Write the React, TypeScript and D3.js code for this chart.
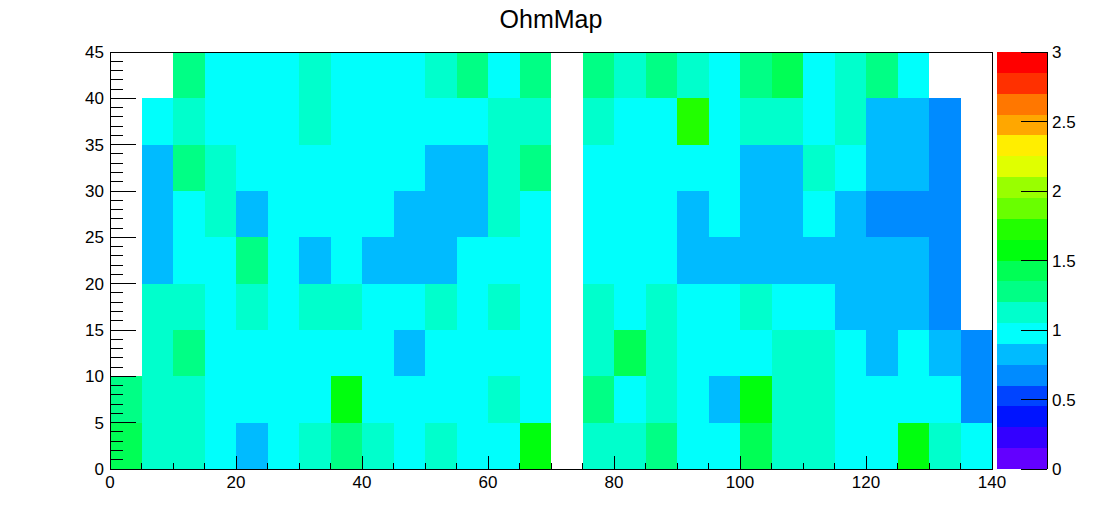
import React from "react";
import * as d3 from "d3";

const title = "OhmMap";
const xEdges = d3.range(0, 141, 5); // 28 bins of width 5
const yEdges = d3.range(0, 46, 5); // 9 bins of width 5
const xTickLabels = [0, 20, 40, 60, 80, 100, 120, 140];
const yTickLabels = [0, 5, 10, 15, 20, 25, 30, 35, 40, 45];
const zTickLabels = [0, 0.5, 1, 1.5, 2, 2.5, 3];
const zMin = 0;
const zMax = 3;
const nContours = 20;

// values per y bin (row0 = y 0..5), 28 x bins each; 0 = empty bin
const row0 = [1.41, 1.12, 1.15, 0.97, 0.83, 0.99, 1.10, 1.27, 1.13, 0.96, 1.11, 0.98, 1.02, 1.59, 0, 1.14, 1.09, 1.30, 0.95, 1.01, 1.44, 1.16, 1.12, 0.99, 0.97, 1.61, 1.13, 1.00];
const row1 = [1.32, 1.14, 1.10, 0.98, 1.01, 0.96, 0.99, 1.57, 1.03, 0.95, 1.00, 0.97, 1.12, 1.02, 0, 1.29, 0.98, 1.11, 1.00, 0.84, 1.60, 1.13, 1.15, 0.99, 1.02, 0.96, 1.01, 0.70];
const row2 = [0, 1.12, 1.27, 0.99, 1.02, 0.97, 1.00, 0.95, 1.01, 0.82, 0.98, 1.03, 0.96, 1.00, 0, 1.10, 1.42, 1.14, 0.97, 1.01, 0.99, 1.11, 1.09, 0.96, 0.85, 1.02, 0.79, 0.69];
const row3 = [0, 1.13, 1.11, 0.98, 1.09, 1.00, 1.15, 1.12, 0.97, 1.02, 1.14, 0.95, 1.10, 0.99, 0, 1.12, 0.96, 1.16, 1.01, 0.98, 1.09, 1.03, 0.97, 0.86, 0.83, 0.81, 0.71, 0];
const row4 = [0, 0.84, 0.99, 1.01, 1.26, 0.97, 0.80, 1.02, 0.86, 0.83, 0.85, 0.96, 1.00, 0.98, 0, 1.01, 0.95, 0.99, 0.87, 0.84, 0.82, 0.86, 0.85, 0.83, 0.80, 0.84, 0.67, 0];
const row5 = [0, 0.82, 0.98, 1.13, 0.85, 1.03, 0.97, 1.00, 0.96, 0.83, 0.87, 0.81, 1.11, 1.02, 0, 0.99, 1.01, 0.97, 0.84, 1.00, 0.86, 0.82, 0.98, 0.85, 0.70, 0.68, 0.66, 0];
const row6 = [0, 0.85, 1.30, 1.11, 1.00, 0.97, 1.02, 0.99, 0.96, 1.01, 0.88, 0.84, 1.13, 1.31, 0, 0.98, 1.03, 0.96, 1.00, 0.97, 0.83, 0.86, 1.12, 0.99, 0.81, 0.84, 0.69, 0];
const row7 = [0, 1.01, 1.14, 0.97, 1.00, 0.98, 1.16, 1.02, 0.96, 0.99, 1.03, 0.95, 1.12, 1.10, 0, 1.13, 0.97, 1.01, 1.72, 0.98, 1.11, 1.15, 1.00, 1.14, 0.82, 0.85, 0.72, 0];
const row8 = [0, 0, 1.28, 0.99, 1.02, 0.97, 1.13, 1.00, 0.95, 1.03, 1.09, 1.31, 0.98, 1.26, 0, 1.29, 1.15, 1.32, 1.12, 0.96, 1.25, 1.44, 1.01, 1.10, 1.27, 0.99, 0, 0];
const rows = [row0, row1, row2, row3, row4, row5, row6, row7, row8];

// ROOT "pretty" palette (HLS hue 280 -> 0), 50 colours
const paletteColor = (k: number) => {
  const i = Math.floor(((k + 0.99) * 50) / nContours);
  const hue = 280 - (i + 1) * 5.6;
  return d3.hsl(Math.max(0, hue), 1, 0.5).formatHex();
};
const colorFor = (v: number) => {
  const k = Math.min(nContours - 1, Math.max(0, Math.floor(((v - zMin) / (zMax - zMin)) * nContours)));
  return paletteColor(k);
};

const FONT = "'Liberation Sans', Arial, Helvetica, sans-serif";

export default function App() {
  const W = 1102, H = 522;
  const left = 110, right = 992, top = 52, bottom = 469;
  const x = d3.scaleLinear().domain([0, 140]).range([left, right]);
  const y = d3.scaleLinear().domain([0, 45]).range([bottom, top]);
  const zx0 = 997, zx1 = 1047;
  const z = d3.scaleLinear().domain([zMin, zMax]).range([bottom, top]);
  const yTickLen = 0.03 * (right - left);
  const xTickLen = 0.03 * (bottom - top);

  const cells: JSX.Element[] = [];
  rows.forEach((row, j) => {
    row.forEach((v, i) => {
      if (!v) return;
      const x0 = x(xEdges[i]), x1 = x(xEdges[i + 1]);
      const y0 = y(yEdges[j + 1]), y1 = y(yEdges[j]);
      cells.push(
        <rect key={`${i}-${j}`} x={x0} y={y0} width={x1 - x0} height={y1 - y0} fill={colorFor(v)} shapeRendering="crispEdges" />
      );
    });
  });

  const paletteRects = d3.range(nContours).map((k) => {
    const v0 = zMin + (k * (zMax - zMin)) / nContours;
    const v1 = zMin + ((k + 1) * (zMax - zMin)) / nContours;
    return (
      <rect key={k} x={zx0} y={z(v1)} width={zx1 - zx0} height={z(v0) - z(v1)} fill={paletteColor(k)} shapeRendering="crispEdges" />
    );
  });

  const yMinor = d3.range(0, 46, 1);
  const xMinor = d3.range(0, 141, 5);

  return (
    <svg width={W} height={H} style={{ position: "absolute", left: 0, top: 0, background: "#fff" }}>
      <rect x={0} y={0} width={W} height={H} fill="#fff" />
      <text x={551} y={28} textAnchor="middle" fontFamily={FONT} fontSize={25} fill="#000">{title}</text>
      {cells}
      <g stroke="#000" strokeWidth={1} shapeRendering="crispEdges">
        <rect x={left} y={top} width={right - left} height={bottom - top} fill="none" />
        {yMinor.map((t) => (
          <line key={`ym${t}`} x1={left} x2={left + (t % 5 === 0 ? yTickLen : yTickLen / 2)} y1={y(t)} y2={y(t)} />
        ))}
        {xMinor.map((t) => (
          <line key={`xm${t}`} x1={x(t)} x2={x(t)} y1={bottom} y2={bottom - (t % 20 === 0 ? xTickLen : xTickLen / 2)} />
        ))}
      </g>
      <g fontFamily={FONT} fontSize={17} fill="#000">
        {xTickLabels.map((t) => (
          <text key={`xl${t}`} x={x(t)} y={488} textAnchor="middle">{t}</text>
        ))}
        {yTickLabels.map((t) => (
          <text key={`yl${t}`} x={104} y={y(t) + 6} textAnchor="end">{t}</text>
        ))}
      </g>
      {paletteRects}
      <g stroke="#000" strokeWidth={1} shapeRendering="crispEdges">
        <line x1={zx1} x2={zx1} y1={top} y2={bottom} />
        {zTickLabels.map((t) => (
          <line key={`zt${t}`} x1={zx1 - 26} x2={zx1} y1={z(t)} y2={z(t)} />
        ))}
      </g>
      <g fontFamily={FONT} fontSize={17} fill="#000">
        {zTickLabels.map((t) => (
          <text key={`zl${t}`} x={1052} y={z(t) + 6} textAnchor="start">{t}</text>
        ))}
      </g>
    </svg>
  );
}
